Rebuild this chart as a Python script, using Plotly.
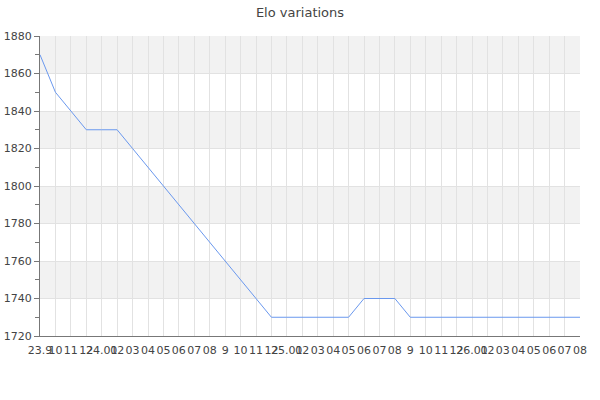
import plotly.graph_objects as go

# tick labels along the x axis (one per sample)
labels = ["23.9", "10", "11", "12",
          "24.01", "02", "03", "04", "05", "06", "07", "08", "9", "10", "11", "12",
          "25.01", "02", "03", "04", "05", "06", "07", "08", "9", "10", "11", "12",
          "26.01", "02", "03", "04", "05", "06", "07", "08"]
elo = [1870, 1850, 1840, 1830,
       1830, 1830, 1820, 1810, 1800, 1790, 1780, 1770, 1760, 1750, 1740, 1730,
       1730, 1730, 1730, 1730, 1730, 1740, 1740, 1740, 1730, 1730, 1730, 1730,
       1730, 1730, 1730, 1730, 1730, 1730, 1730, 1730]
band_starts = [1740, 1780, 1820, 1860]

xs = list(range(len(elo)))

fig = go.Figure()
fig.add_trace(go.Scatter(
    x=xs, y=elo, mode="lines",
    line=dict(color="#6a98ee", width=1),
    hoverinfo="y",
))

# alternating grey bands
for b in band_starts:
    fig.add_shape(type="rect", xref="paper", x0=0, x1=1, y0=b, y1=b + 20,
                  fillcolor="#f2f2f2", line_width=0, layer="below")

fig.update_layout(
    width=600, height=400,
    title=dict(text="Elo variations", x=0.5, xanchor="center",
               yref="container", y=0.97, yanchor="middle",
               font=dict(size=13, color="#444")),
    font=dict(family="DejaVu Sans", size=11, color="#444"),
    margin=dict(l=40, r=20, t=36, b=64),
    plot_bgcolor="white", paper_bgcolor="white",
    showlegend=False,
)
fig.update_xaxes(
    range=[0, len(elo) - 1], tickvals=xs, ticktext=labels, tickangle=0,
    showgrid=True, gridcolor="#e2e2e2", gridwidth=1,
    showline=True, linecolor="#777", linewidth=1,
    ticks="", ticklabelstandoff=4, zeroline=False, automargin=False,
)
fig.update_yaxes(
    range=[1720, 1880], dtick=20,
    showgrid=True, gridcolor="#e2e2e2",
    showline=True, linecolor="#777", linewidth=1,
    ticks="outside", ticklen=5, tickcolor="#777",
    minor=dict(dtick=10, ticks="outside", ticklen=4, tickcolor="#777", showgrid=False),
    zeroline=False, automargin=False,
)

# drop the browser's default body margin so the figure sits at the page corner
fig.write_html("out.html", config={"displayModeBar": False},
               post_script="document.body.style.margin='0';")
